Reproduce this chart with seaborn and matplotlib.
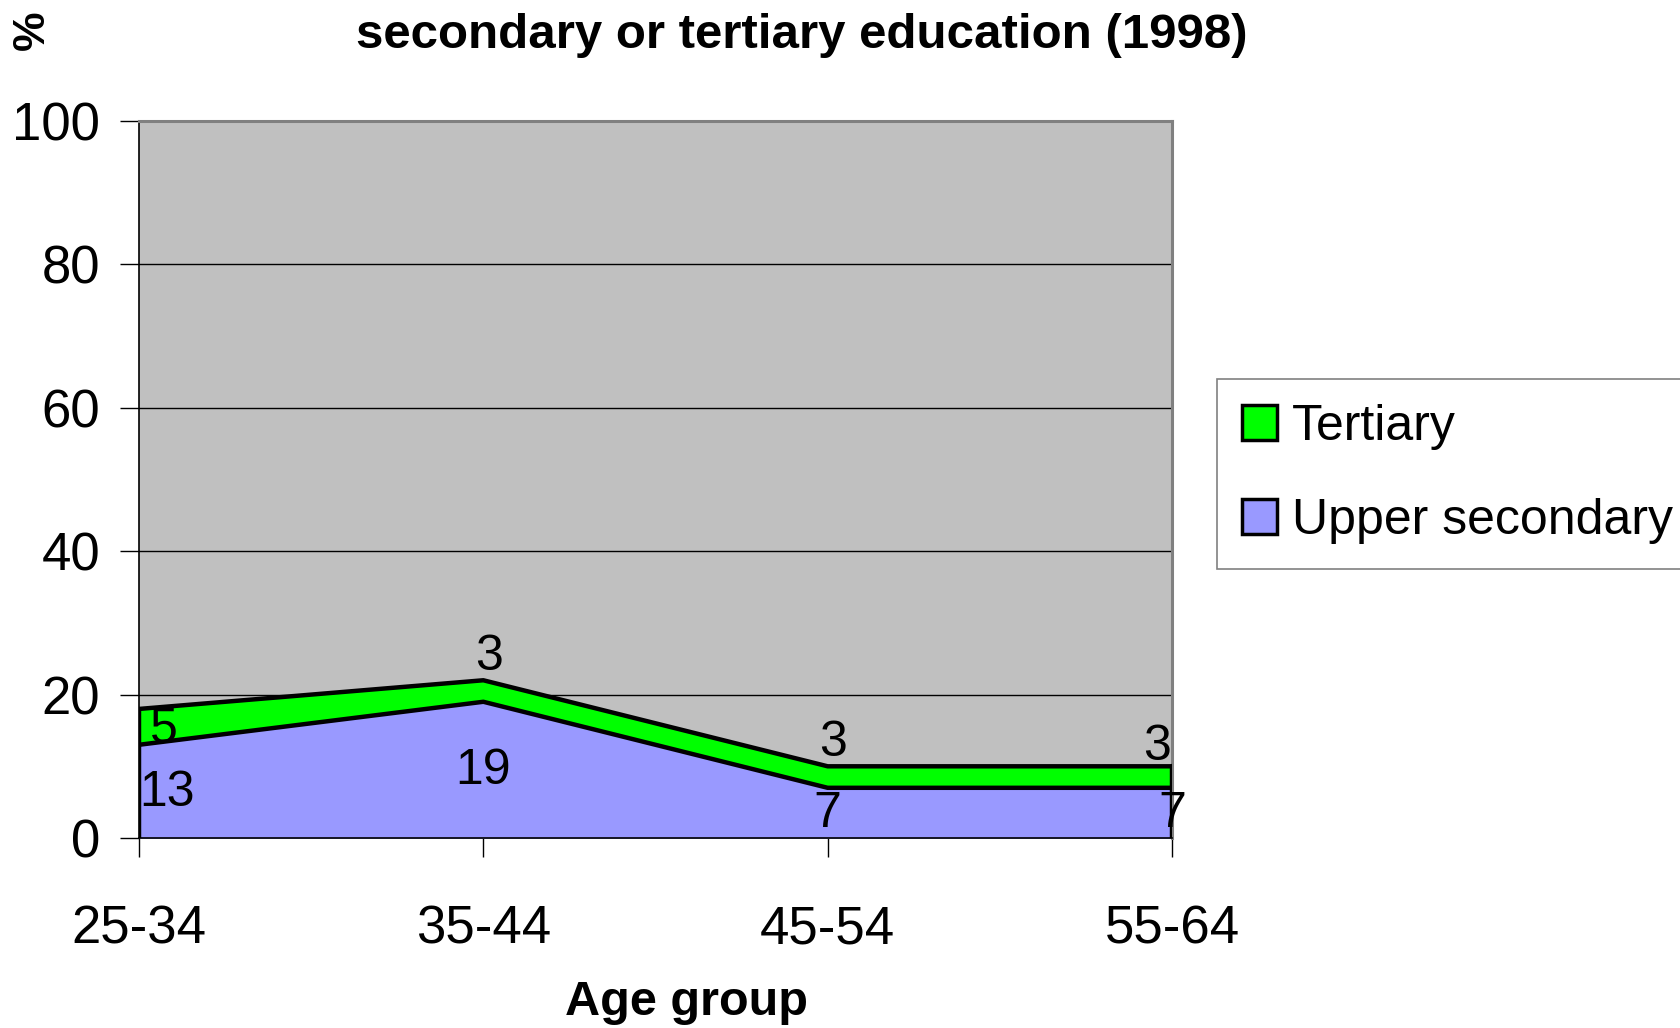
import numpy as np
import matplotlib
matplotlib.use("Agg")
import matplotlib.pyplot as plt
import seaborn as sns
from matplotlib.patches import Patch

# data
age_groups = ["25-34", "35-44", "45-54", "55-64"]
upper_secondary = [13, 19, 7, 7]
tertiary = [5, 3, 3, 3]

sns.set_style("white")
plt.rcParams["font.family"] = ["Liberation Sans", "DejaVu Sans"]
plt.rcParams["text.color"] = "black"
plt.rcParams["axes.labelcolor"] = "black"
plt.rcParams["xtick.color"] = "black"
plt.rcParams["ytick.color"] = "black"

green = "#00FF00"
lilac = "#9999FF"

fig = plt.figure(figsize=(16.81, 10.28), dpi=100)
ax = fig.add_axes([139 / 1681, 1 - 838 / 1028, (1172 - 139) / 1681, (838 - 121) / 1028])
ax.set_facecolor("#C0C0C0")

x = np.arange(len(age_groups))
lower = np.array(upper_secondary)
top = lower + np.array(tertiary)

ax.fill_between(x, 0, lower, color=lilac, zorder=2)
ax.fill_between(x, lower, top, color=green, zorder=2)
sns.lineplot(x=x, y=lower, color="black", lw=3.2, ax=ax, zorder=3)
sns.lineplot(x=x, y=top, color="black", lw=3.2, ax=ax, zorder=3)
ax.plot([x[-1], x[-1]], [0, top[-1]], color="black", lw=3.2, zorder=3)
ax.plot([x[0], x[0]], [0, top[0]], color="black", lw=3.2, zorder=3)

ax.set_xlim(0, 3)
ax.set_ylim(0, 100)
ax.set_yticks([0, 20, 40, 60, 80, 100])
ax.set_xticks(x)
ax.set_xticklabels(age_groups)
for yv in [20, 40, 60, 80]:
    ax.axhline(yv, color="black", lw=1, zorder=1)

ax.tick_params(axis="y", labelsize=38, length=14, width=1, direction="out", pad=14, left=True)
ax.tick_params(axis="x", labelsize=38, length=14, width=1, direction="out", pad=34, bottom=True)

for s in ["left", "bottom"]:
    ax.spines[s].set_color("black")
    ax.spines[s].set_linewidth(1.2)
for s in ["top", "right"]:
    ax.spines[s].set_color("#808080")
    ax.spines[s].set_linewidth(2.2)

# data labels
lab_fs = 36
for i in range(len(x)):
    ha = "left" if i == 0 else "center"
    ax.annotate(str(upper_secondary[i]), (x[i], lower[i] / 2), xytext=(0, -1),
                textcoords="offset points", ha=ha, va="center", fontsize=lab_fs, zorder=5)
    if i == 0:
        ax.annotate(str(tertiary[i]), (x[i], lower[i] + tertiary[i] / 2), xytext=(8, -2),
                    textcoords="offset points", ha="left", va="center", fontsize=lab_fs, zorder=5)
    elif i == len(x) - 1:
        ax.annotate(str(tertiary[i]), (x[i], top[i]), xytext=(-1, 14),
                    textcoords="offset points", ha="right", va="center", fontsize=lab_fs, zorder=5)
    else:
        ax.annotate(str(tertiary[i]), (x[i], top[i]), xytext=(4, 17),
                    textcoords="offset points", ha="center", va="center", fontsize=lab_fs, zorder=5)

ax.set_xlabel("Age group", fontsize=35, fontweight="bold")
ax.xaxis.set_label_coords(0.53, -0.229)
ax.xaxis.label.set_va("center")
ax.set_ylabel("")

fig.text(802 / 1681, 1 - 36 / 1028, "secondary or tertiary education (1998)",
         ha="center", va="center", fontsize=35.5, fontweight="bold")
fig.text(32 / 1681, 1 - 30 / 1028, "%", rotation=90, ha="center", va="center",
         fontsize=32, fontweight="bold")

handles = [Patch(facecolor=green, edgecolor="black", linewidth=2.5),
           Patch(facecolor=lilac, edgecolor="black", linewidth=2.5)]
leg = fig.legend(handles, ["Tertiary", "Upper secondary"], loc="upper left",
                 bbox_to_anchor=(1217 / 1681, 1 - 379 / 1028), fontsize=36,
                 frameon=True, fancybox=False, framealpha=1, edgecolor="#808080",
                 handlelength=0.7, handleheight=0.7, handletextpad=0.3,
                 labelspacing=0.95, borderpad=0.5, borderaxespad=0)
leg.get_frame().set_linewidth(1.2)

fig.savefig("out.png", dpi=100)
